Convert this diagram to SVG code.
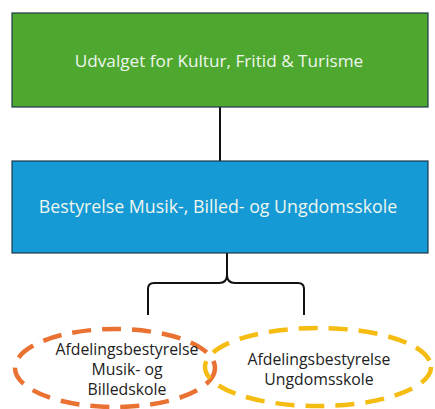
<svg xmlns="http://www.w3.org/2000/svg" width="435" height="409" viewBox="0 0 435 409">
<style>
.box{stroke:#1f3a4a;stroke-width:1.2}
.lbl{font-family:"Open Sans","Liberation Sans",sans-serif;fill:#eef6ee;text-anchor:middle}
.dl{font-family:"Open Sans","Liberation Sans",sans-serif;fill:#222;text-anchor:middle;font-size:15.8px}
.conn{fill:none;stroke:#111;stroke-width:2}
.ell{fill:none;stroke-width:4.5;stroke-dasharray:19 11}
</style>
<rect width="435" height="409" fill="#fff"/>
<g id="connectors">
<line class="conn" x1="220" y1="107" x2="220" y2="161"/>
<path class="conn" d="M227 253 V275 Q227 283 219 283 H154 Q148 283 148 289 V315 M227 275 Q227 283 235 283 H298 Q304 283 304 289 V315"/>
</g>
<g id="udvalget">
<rect class="box" x="12" y="13" width="416" height="94" fill="#4ea72e"/>
<text class="lbl" x="219" y="67" font-size="17.2">Udvalget for Kultur, Fritid &amp; Turisme</text>
</g>
<g id="bestyrelse">
<rect class="box" x="12" y="161" width="416" height="92" fill="#159ad5"/>
<text class="lbl" x="218" y="213" font-size="17.8">Bestyrelse Musik-, Billed- og Ungdomsskole</text>
</g>
<g id="afd-musik">
<ellipse class="ell" cx="115" cy="368" rx="100" ry="39" stroke="#e97132"/>
<text class="dl" x="127" y="355">Afdelingsbestyrelse</text>
<text class="dl" x="127" y="375">Musik- og</text>
<text class="dl" x="127" y="395">Billedskole</text>
</g>
<g id="afd-ungdom">
<ellipse class="ell" cx="318" cy="367" rx="113" ry="39" stroke="#f5bc12"/>
<text class="dl" x="319" y="365">Afdelingsbestyrelse</text>
<text class="dl" x="319" y="385">Ungdomsskole</text>
</g>
</svg>
